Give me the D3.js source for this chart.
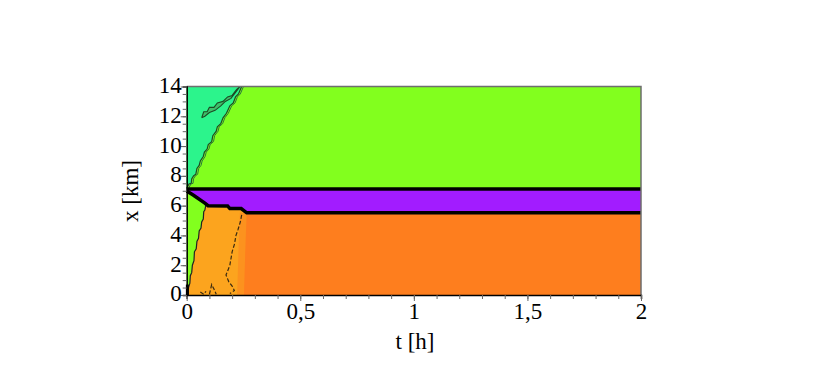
<html>
<head>
<script src="https://d3js.org/d3.v7.min.js"></script>
<style>
  body { margin: 0; background: #fff; }
  text { font-family: "Liberation Serif", serif; }
</style>
</head>
<body>
<svg></svg>
<script>
// axis setup
var tDomain = [0, 2];
var xDomain = [0, 14];
var tTicks = [0, 0.5, 1, 1.5, 2];
var tLabels = ["0", "0,5", "1", "1,5", "2"];
var xTicks = [0, 2, 4, 6, 8, 10, 12, 14];

// fronts, [t (h), x (km)]
var upperFront = [[0, 7.12], [2, 7.12]];
var lowerFront = [[0, 6.98], [0.03, 6.7], [0.08, 6.17], [0.094, 6.0], [0.18, 5.98], [0.19, 5.8],
                  [0.24, 5.8], [0.264, 5.52], [2, 5.52]];
var diagFront = [[0, 7.15], [0.01, 7.45], [0.02, 7.5], [0.022, 7.8], [0.03, 8.0], [0.04, 8.1], [0.045, 8.5],
                 [0.055, 8.7], [0.06, 9.0], [0.073, 9.3], [0.078, 9.6], [0.09, 9.8], [0.095, 10.1],
                 [0.11, 10.3], [0.115, 10.7], [0.13, 11.0], [0.135, 11.3], [0.15, 11.5], [0.16, 11.9],
                 [0.175, 12.2], [0.19, 12.7], [0.205, 12.9], [0.215, 13.3], [0.228, 13.5], [0.242, 14]];
var leftFront = [[0.006, 0], [0.008, 0.5], [0.014, 0.8], [0.016, 1.3], [0.022, 1.5], [0.025, 2.0],
                 [0.032, 2.3], [0.034, 2.9], [0.042, 3.1], [0.045, 3.6], [0.052, 3.8], [0.055, 4.3],
                 [0.063, 4.5], [0.066, 4.9], [0.073, 5.1], [0.075, 5.6], [0.08, 5.7], [0.085, 6.1]];
var fanEdge = [[0.264, 5.52], [0.258, 3], [0.252, 0]];
var loopTop = [[0.066, 11.9], [0.075, 12.3], [0.09, 12.3], [0.1, 12.6], [0.12, 12.6], [0.135, 12.9],
               [0.16, 13.0], [0.18, 13.3], [0.2, 13.4], [0.22, 13.8], [0.235, 14],
               [0.215, 13.6], [0.195, 13.2], [0.17, 13.0], [0.15, 12.7], [0.125, 12.4],
               [0.1, 12.25], [0.08, 12.0], [0.066, 11.9]];
var fanLine1 = [[0.242, 5.38], [0.236, 4.9], [0.226, 4.4], [0.217, 4.0], [0.21, 3.4], [0.2, 2.9],
                [0.19, 2.0], [0.18, 1.6], [0.173, 1.35], [0.185, 0.9], [0.2, 0.6], [0.21, 0.3], [0.19, 0.1]];
var fanLine2 = [[0.1, 0.05], [0.11, 0.7], [0.12, 0.4], [0.13, 0.05]];
var fanLine3 = [[0.06, 0.2], [0.075, 0.05], [0.085, 0.25]];
var originBar = [[0.003, 0], [0.003, 0.7]];

var colCyan = "#2cf48c", colLime = "#82ff1e", colPurple = "#a21cff",
    colLight = "#fca41e", colMid = "#fc921e", colDark = "#fe7e1e";

var width = 830, height = 382;
var svg = d3.select("svg").attr("width", width).attr("height", height);

var t = d3.scaleLinear().domain(tDomain).range([186.7, 641]);
var x = d3.scaleLinear().domain(xDomain).range([295, 86.5]);

var line = d3.line().x(function(d) { return t(d[0]); }).y(function(d) { return x(d[1]); });

// background region
svg.append("rect")
  .attr("x", t(0)).attr("y", x(14))
  .attr("width", t(2) - t(0)).attr("height", x(0) - x(14))
  .attr("fill", colLime);

// upper left region
var cyanPoly = [[0, 14]].concat(diagFront, [[0.242, 14]]);
svg.append("path").attr("d", line(cyanPoly) + "Z").attr("fill", colCyan);

// light orange fan
var lightPoly = leftFront.concat(lowerFront.filter(function(d) { return d[0] > 0.085; }), [[2, 0]]);
svg.append("path").attr("d", line(lightPoly) + "Z").attr("fill", colLight);

// transition band
var midPoly = fanEdge.map(function(d) { return [d[0] - 0.03, d[1]]; }).concat([[2, 0], [2, 5.52]]);
svg.append("path").attr("d", line(midPoly) + "Z").attr("fill", colMid);

// dark orange
var darkPoly = fanEdge.concat([[2, 0], [2, 5.52]]);
svg.append("path").attr("d", line(darkPoly) + "Z").attr("fill", colDark);

// purple band
var purplePoly = upperFront.concat(lowerFront.slice().reverse());
svg.append("path").attr("d", line(purplePoly) + "Z").attr("fill", colPurple);

// contour lines
svg.append("path").attr("d", line(loopTop)).attr("fill", "#3fbf6a")
  .attr("stroke", "#1d4a24").attr("stroke-width", 1.1);
svg.append("path").attr("d", line(diagFront)).attr("fill", "none")
  .attr("stroke", "#1d4a24").attr("stroke-width", 1.2);
svg.append("path").attr("d", line(diagFront.map(function(d) { return [d[0] + 0.008, d[1]]; })))
  .attr("fill", "none").attr("stroke", "#2c7a3a").attr("stroke-width", 1);
svg.append("path").attr("d", line(leftFront)).attr("fill", "none")
  .attr("stroke", "#222").attr("stroke-width", 1.2);
[fanLine1, fanLine2, fanLine3].forEach(function(c) {
  svg.append("path").attr("d", line(c)).attr("fill", "none")
    .attr("stroke", "#3a2a10").attr("stroke-width", 1.2).attr("stroke-dasharray", "4,2");
});
svg.append("path").attr("d", line(originBar)).attr("fill", "none")
  .attr("stroke", "#000").attr("stroke-width", 3);

// thick interfaces
[upperFront, lowerFront].forEach(function(c) {
  svg.append("path").attr("d", line(c)).attr("fill", "none")
    .attr("stroke", "#000").attr("stroke-width", 3.5);
});

// frame top/right
svg.append("path")
  .attr("d", "M" + t(0) + "," + x(14) + "H" + t(2) + "V" + x(0))
  .attr("fill", "none").attr("stroke", "#6e6e6e").attr("stroke-width", 1.5);

// x axis (t)
var gT = svg.append("g").attr("transform", "translate(0," + x(0) + ")");
gT.call(d3.axisBottom(t).tickValues(d3.range(0, 2.0001, 0.1)).tickSize(4).tickFormat(""));
gT.call(function(g) {
  g.selectAll(".tick line").attr("stroke", "#666");
  g.select(".domain").attr("stroke", "#000").attr("stroke-width", 1.5);
});
var gT2 = svg.append("g").attr("transform", "translate(0," + x(0) + ")");
gT2.call(d3.axisBottom(t).tickValues(tTicks).tickSize(6)
  .tickFormat(function(d, i) { return tLabels[i]; }));
gT2.select(".domain").remove();
gT2.selectAll(".tick line").attr("stroke", "#666");
gT2.selectAll(".tick text").attr("font-size", 23).attr("font-family", "Liberation Serif")
  .attr("fill", "#000").attr("dy", 0).attr("y", 24);

// y axis (x)
var gX = svg.append("g").attr("transform", "translate(" + t(0) + ",0)");
gX.call(d3.axisLeft(x).tickValues(d3.range(0, 14.001, 0.5)).tickSize(4).tickFormat(""));
gX.selectAll(".tick line").attr("stroke", "#666");
gX.select(".domain").attr("stroke", "#000").attr("stroke-width", 1.5);
var gX2 = svg.append("g").attr("transform", "translate(" + t(0) + ",0)");
gX2.call(d3.axisLeft(x).tickValues(xTicks).tickSize(6).tickFormat(d3.format("d")));
gX2.select(".domain").remove();
gX2.selectAll(".tick line").attr("stroke", "#666");
gX2.selectAll(".tick text").attr("font-size", 23).attr("font-family", "Liberation Serif")
  .attr("fill", "#000").attr("x", -5).attr("dy", "0.26em");

// titles
svg.append("text").attr("x", 415).attr("y", 349).attr("text-anchor", "middle")
  .attr("font-size", 23).text("t [h]");
svg.append("text").attr("transform", "translate(137.5,191) rotate(-90)")
  .attr("text-anchor", "middle").attr("font-size", 23).text("x [km]");
</script>
</body>
</html>
